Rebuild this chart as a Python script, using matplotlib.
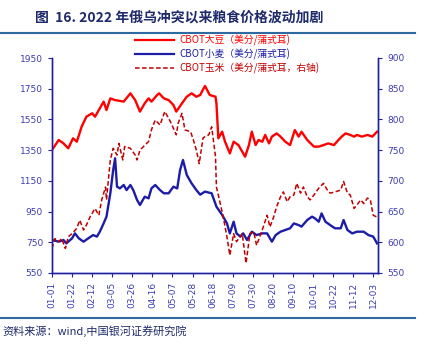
import datetime
import matplotlib
matplotlib.use('Agg')
import matplotlib.pyplot as plt
from matplotlib.lines import Line2D

plt.rcParams['font.family'] = ['Noto Sans CJK SC', 'DejaVu Sans']

# days since 2022-01-01
soy_days = [0, 7, 12, 17, 22, 26, 31, 36, 42, 45, 49, 54, 57, 61, 66, 75, 82, 87,
            92, 97, 101, 104, 110, 112, 117, 122, 127, 130, 136, 141, 146, 151,
            155, 160, 165, 171, 172, 174, 178, 181, 186, 190, 195, 199, 202, 206,
            209, 213, 216, 220, 223, 227, 230, 235, 239, 244, 249, 254, 258, 261,
            267, 274, 279, 284, 289, 295, 298, 303, 307, 312, 316, 319, 324, 330,
            335, 340]
soy = [1351, 1416, 1394, 1362, 1427, 1405, 1503, 1568, 1590, 1568, 1611, 1666,
       1611, 1687, 1676, 1666, 1720, 1676, 1601, 1655, 1687, 1666, 1709, 1720,
       1687, 1676, 1644, 1601, 1655, 1698, 1720, 1698, 1709, 1768, 1709, 1698,
       1655, 1427, 1470, 1405, 1329, 1405, 1383, 1340, 1307, 1383, 1470, 1383,
       1416, 1405, 1449, 1394, 1438, 1459, 1438, 1405, 1383, 1481, 1438, 1470,
       1416, 1373, 1373, 1383, 1394, 1383, 1405, 1438, 1459, 1449, 1438, 1449,
       1438, 1449, 1438, 1470]

wheat_days = [0, 7, 12, 15, 21, 24, 28, 33, 38, 43, 47, 50, 54, 57, 61, 64, 66,
              68, 71, 75, 78, 82, 85, 89, 92, 97, 101, 104, 108, 113, 117, 122,
              127, 131, 134, 137, 141, 146, 151, 155, 160, 167, 172, 178, 183,
              186, 190, 193, 197, 200, 204, 209, 214, 220, 225, 230, 234, 239,
              244, 249, 253, 258, 261, 267, 272, 275, 279, 282, 286, 291, 296,
              302, 305, 309, 314, 319, 326, 331, 336, 340]
wheat = [765, 754, 765, 743, 776, 808, 776, 754, 776, 797, 787, 819, 873, 917,
         1069, 1221, 1297, 1112, 1101, 1123, 1090, 1123, 1090, 1025, 993, 1047,
         1036, 1101, 1123, 1090, 1069, 1069, 1112, 1101, 1221, 1286, 1188, 1134,
         1090, 1060, 1080, 1069, 982, 928, 873, 808, 884, 808, 787, 808, 765,
         819, 797, 808, 808, 754, 797, 819, 830, 841, 873, 862, 852, 895, 917,
         906, 884, 938, 884, 862, 841, 841, 895, 830, 808, 819, 819, 797, 787,
         743]

corn_days = [0, 3, 7, 10, 14, 17, 21, 26, 29, 33, 36, 40, 45, 49, 52, 56, 57,
             61, 64, 68, 70, 74, 76, 82, 87, 89, 92, 97, 101, 104, 108, 113, 118,
             124, 130, 132, 136, 139, 145, 148, 151, 154, 158, 164, 167, 171,
             172, 176, 179, 183, 186, 190, 193, 199, 203, 207, 211, 214, 218,
             221, 225, 228, 232, 235, 239, 242, 246, 249, 253, 256, 260, 263,
             267, 270, 274, 279, 284, 288, 291, 296, 302, 305, 309, 312, 316,
             319, 323, 326, 330, 333, 336, 340]
corn = [590, 606, 601, 606, 590, 609, 614, 623, 636, 620, 628, 642, 655, 644,
        669, 690, 669, 734, 753, 742, 761, 734, 756, 753, 742, 734, 750, 758,
        764, 783, 799, 791, 813, 796, 775, 794, 810, 783, 780, 766, 750, 728,
        770, 775, 788, 740, 690, 663, 642, 609, 579, 614, 601, 614, 566, 614,
        617, 595, 612, 625, 644, 625, 642, 658, 674, 682, 666, 674, 677, 696,
        680, 690, 674, 669, 677, 688, 696, 685, 680, 682, 685, 699, 680, 677,
        655, 661, 669, 663, 672, 669, 644, 641]

tick_days = list(range(0, 337, 21))
start = datetime.date(2022, 1, 1)
tick_labels = [(start + datetime.timedelta(days=d)).strftime('%m-%d') for d in tick_days]

labels = ['CBOT大豆（美分/蒲式耳)', 'CBOT小麦（美分/蒲式耳)', 'CBOT玉米（美分/蒲式耳，右轴)']

RED = '#ff0000'
BLUE = '#1c1ca6'
DRED = '#c00000'
SPINE = '#2020a0'
TICK = '#3c3cb4'
NAVY = '#1f2a6b'

fig = plt.figure(figsize=(4.27, 3.49), dpi=100)
ax = fig.add_axes([52 / 427, 1 - 273 / 349, (378 - 52) / 427, (273 - 58) / 349])
ax2 = ax.twinx()

ax.plot(soy_days, soy, color=RED, lw=1.7)
ax.plot(wheat_days, wheat, color=BLUE, lw=1.7)
ax2.plot(corn_days, corn, color=DRED, lw=1.1, ls=(0, (3, 1.6)))

ax.set_xlim(0, 341)
ax.set_ylim(550, 1950)
ax2.set_ylim(550, 900)
ax.set_yticks(range(550, 1951, 200))
ax2.set_yticks(range(550, 901, 50))
ax.set_xticks(tick_days)
ax.set_xticklabels(tick_labels, rotation=90)

for a in (ax, ax2):
    for side in ('left', 'right', 'bottom'):
        a.spines[side].set_color(SPINE)
        a.spines[side].set_linewidth(1.0)
    a.spines['top'].set_visible(False)
    a.tick_params(colors=SPINE, labelcolor=TICK, labelsize=6.5, length=3,
                  width=0.8, direction='out')
    for lab in a.get_xticklabels() + a.get_yticklabels():
        lab.set_family('DejaVu Sans')

handles = [Line2D([], [], color=RED, lw=1.6),
           Line2D([], [], color=BLUE, lw=1.6),
           Line2D([], [], color=DRED, lw=1.1, ls=(0, (3, 1.6)))]
leg = fig.legend(handles, labels, loc='upper left', bbox_to_anchor=(135 / 427, 1 - 35 / 349),
                 frameon=False, fontsize=7, handlelength=4.0, handletextpad=0.6,
                 labelspacing=0.25, borderpad=0, borderaxespad=0)
for txt, c in zip(leg.get_texts(), [RED, BLUE, DRED]):
    txt.set_color(c)

fig.text(35 / 427, 1 - 18 / 349, '图  16. 2022 年俄乌冲突以来粮食价格波动加剧',
         fontsize=10, fontweight='bold', color=NAVY, va='center', ha='left')
fig.add_artist(Line2D([0, 415 / 427], [1 - 33 / 349, 1 - 33 / 349], color='#2e6aa0', lw=1.5))
fig.add_artist(Line2D([0, 415 / 427], [1 - 318 / 349, 1 - 318 / 349], color='#2e6aa0', lw=1.5))
fig.text(2 / 427, 1 - 331 / 349, '资料来源：wind,中国银河证券研究院',
         fontsize=8, style='italic', color=NAVY, va='center', ha='left')

fig.savefig('out.png', dpi=100)
